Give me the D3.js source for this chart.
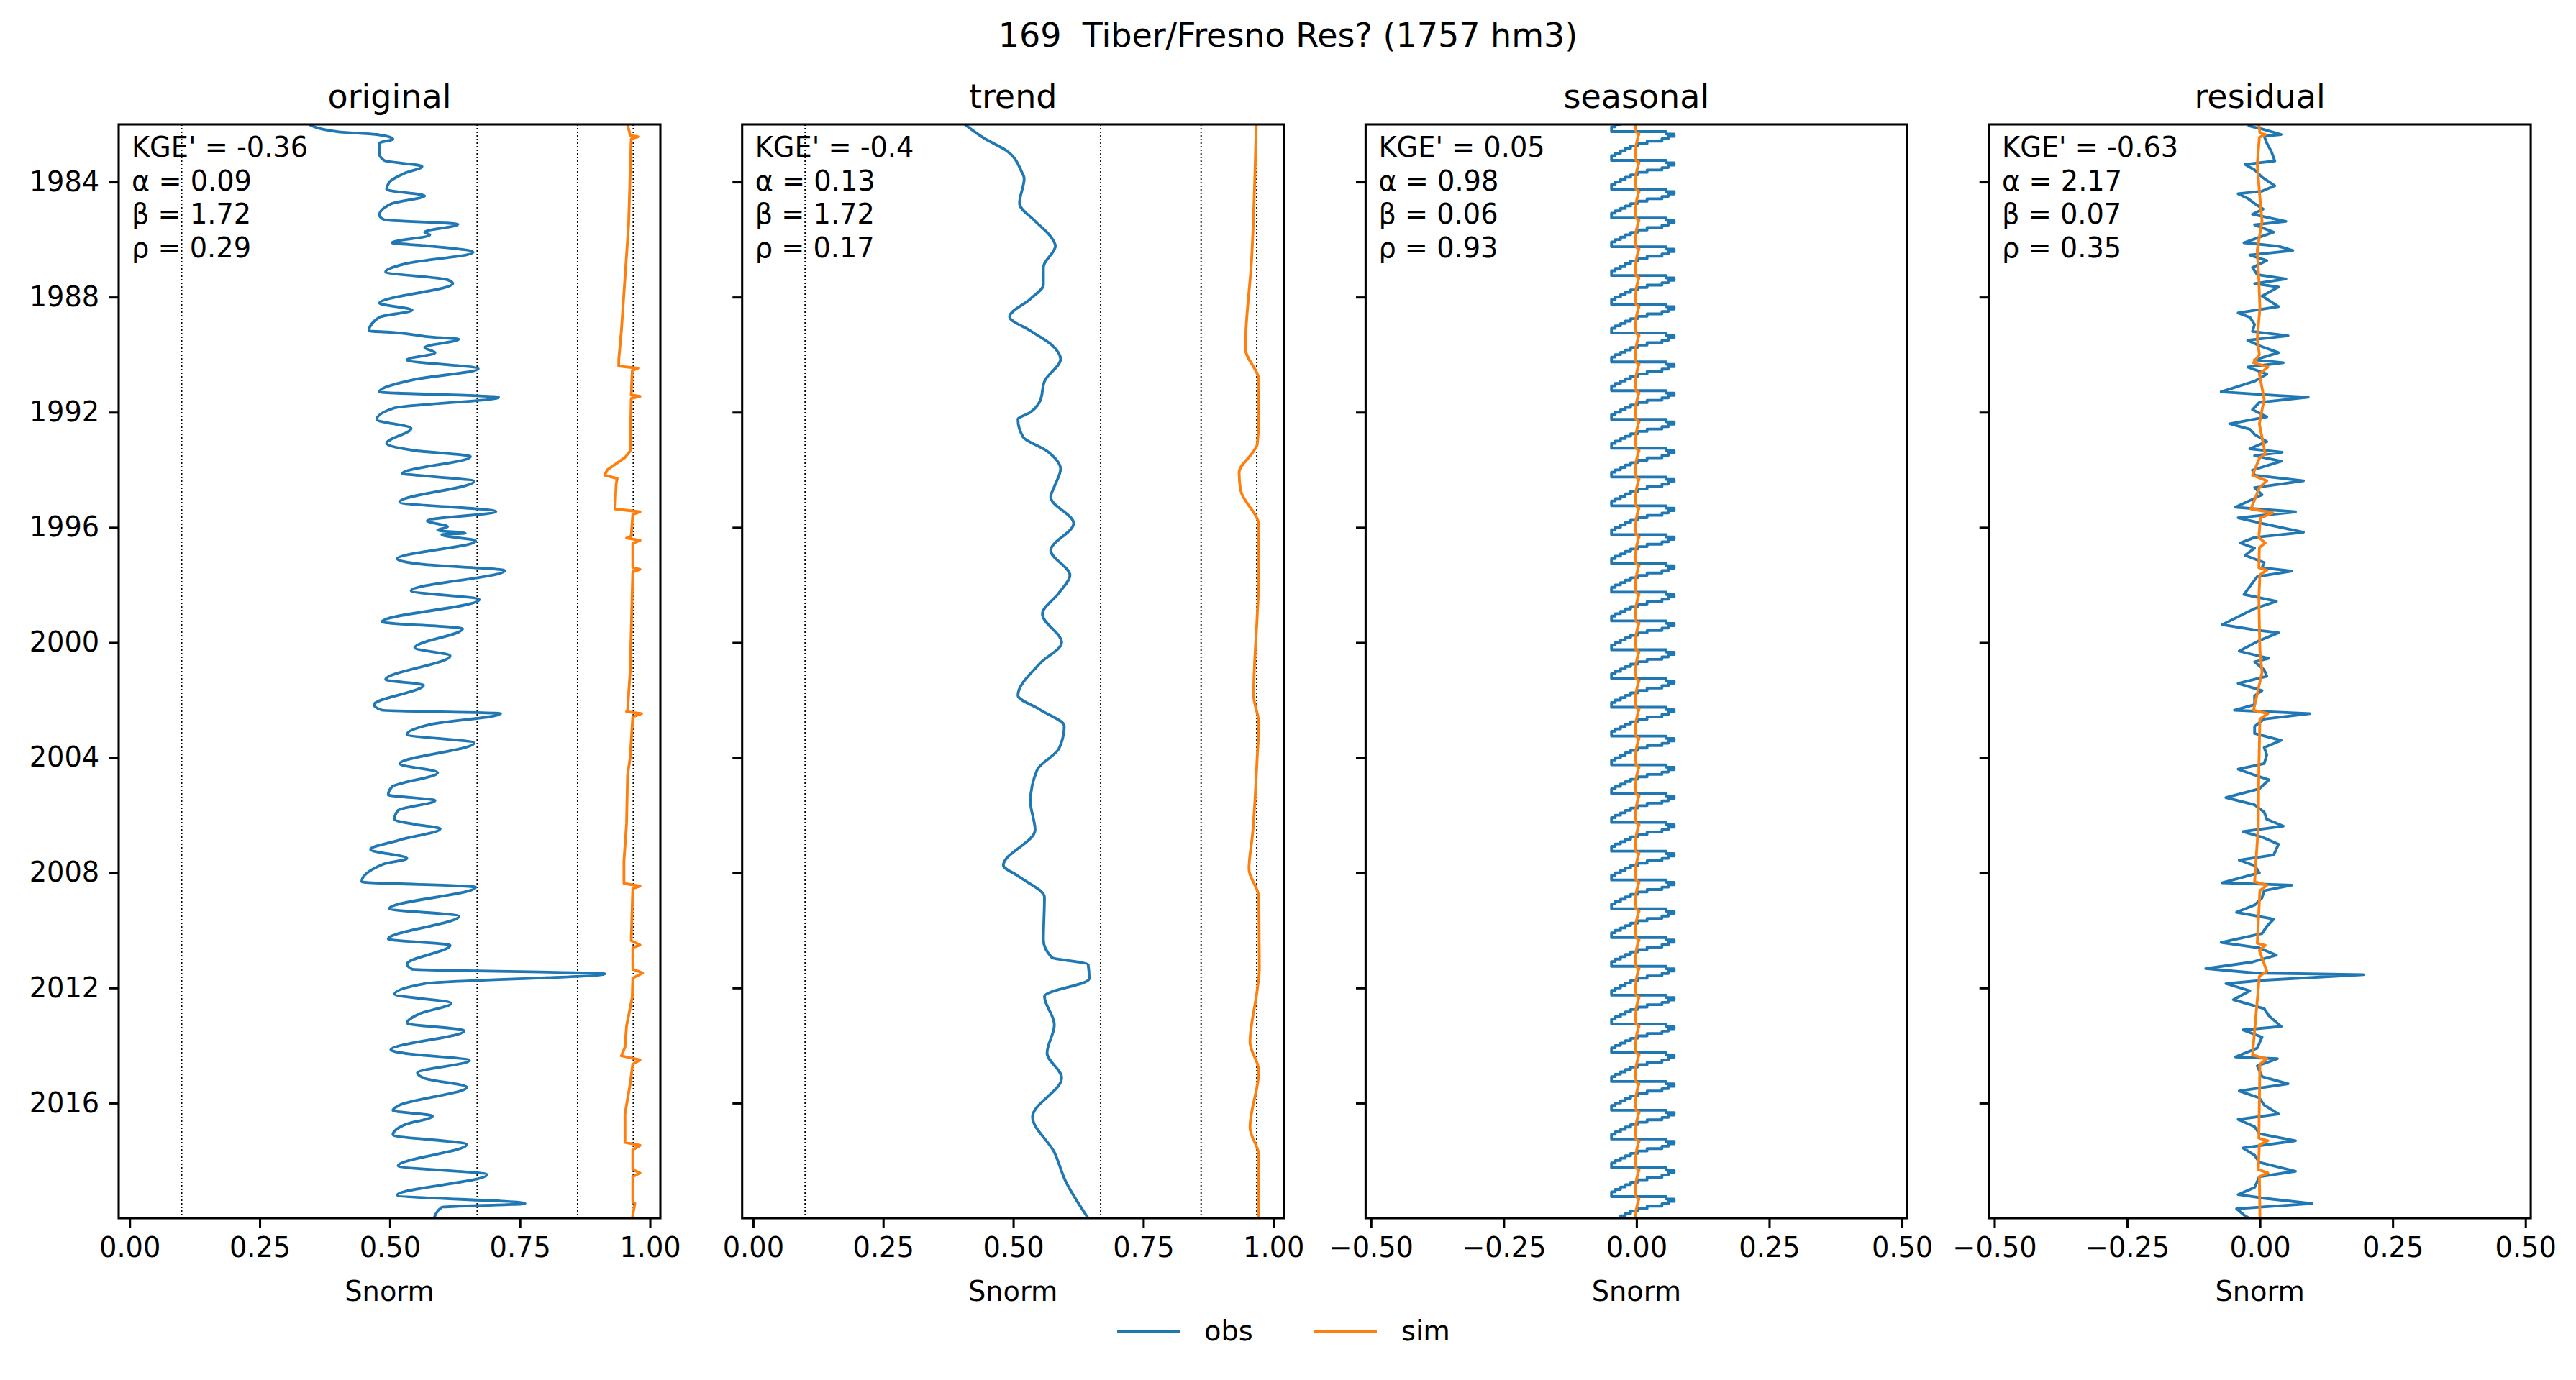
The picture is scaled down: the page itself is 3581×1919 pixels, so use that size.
<!DOCTYPE html>
<html>
<head>
<meta charset="utf-8">
<script src="https://cdn.jsdelivr.net/npm/d3@7"></script>
<style>
  body { margin: 0; background: #fff; }
  svg { display: block; }
  text { white-space: pre; }
</style>
</head>
<body>
<div id="chart"></div>
<script>
// values, time in decimal years, value in Snorm
const panelTitles = ["original", "trend", "seasonal", "residual"];
const suptitle = "169  Tiber/Fresno Res? (1757 hm3)";
const yearTicks = [1984, 1988, 1992, 1996, 2000, 2004, 2008, 2012, 2016];
const ticksPos = [0, 0.25, 0.5, 0.75, 1.0];
const ticksSym = [-0.5, -0.25, 0, 0.25, 0.5];
const zoneLines = [0.10, 0.668, 0.861, 0.968];

const stats = [
  ["KGE' = -0.36", "α = 0.09", "β = 1.72", "ρ = 0.29"],
  ["KGE' = -0.4", "α = 0.13", "β = 1.72", "ρ = 0.17"],
  ["KGE' = 0.05", "α = 0.98", "β = 0.06", "ρ = 0.93"],
  ["KGE' = -0.63", "α = 2.17", "β = 0.07", "ρ = 0.35"]
];

const origObs = [
  [1982.00,0.345],[1982.26,0.402],[1982.35,0.475],[1982.51,0.506],[1982.65,0.480],[1983.02,0.480],
  [1983.25,0.489],[1983.46,0.562],[1983.70,0.528],[1984.01,0.499],[1984.26,0.494],[1984.48,0.567],
  [1984.75,0.504],[1985.15,0.480],[1985.31,0.489],[1985.47,0.631],[1985.74,0.567],[1985.84,0.577],
  [1986.11,0.504],[1986.21,0.567],[1986.44,0.660],[1986.85,0.528],[1987.12,0.492],[1987.40,0.611],
  [1987.53,0.621],[1988.21,0.480],[1988.45,0.543],[1988.70,0.480],[1989.17,0.460],[1989.23,0.509],
  [1989.40,0.587],[1989.46,0.633],[1989.75,0.567],[1989.93,0.587],[1990.18,0.533],[1990.49,0.670],
  [1990.86,0.548],[1991.29,0.480],[1991.48,0.709],[1991.85,0.509],[1992.25,0.475],[1992.56,0.541],
  [1993.08,0.494],[1993.33,0.548],[1993.54,0.655],[1994.13,0.524],[1994.19,0.553],[1994.40,0.662],
  [1995.12,0.519],[1995.45,0.704],[1995.77,0.572],[1995.98,0.611],[1996.10,0.592],[1996.20,0.645],
  [1996.25,0.600],[1996.47,0.665],[1997.09,0.514],[1997.28,0.562],[1997.50,0.721],[1998.20,0.541],
  [1998.51,0.672],[1999.28,0.485],[1999.52,0.640],[2000.18,0.548],[2000.46,0.616],[2001.29,0.492],
  [2001.48,0.565],[2002.16,0.470],[2002.35,0.485],[2002.47,0.713],[2002.85,0.577],[2003.19,0.533],
  [2003.49,0.662],[2004.21,0.519],[2004.52,0.592],[2005.02,0.504],[2005.29,0.497],[2005.49,0.587],
  [2005.83,0.516],[2006.14,0.509],[2006.32,0.548],[2006.47,0.597],[2006.86,0.519],[2007.19,0.463],
  [2007.50,0.533],[2007.69,0.489],[2008.31,0.446],[2008.50,0.665],[2009.24,0.499],[2009.51,0.633],
  [2010.30,0.497],[2010.52,0.616],[2011.17,0.533],[2011.35,0.543],[2011.51,0.913],[2011.85,0.567],
  [2012.22,0.509],[2012.53,0.618],[2012.90,0.557],[2013.22,0.533],[2013.49,0.643],[2014.15,0.502],
  [2014.27,0.528],[2014.52,0.653],[2014.95,0.553],[2015.14,0.567],[2015.45,0.648],[2016.07,0.519],
  [2016.26,0.506],[2016.45,0.582],[2016.76,0.528],[2017.10,0.506],[2017.44,0.648],[2018.18,0.516],
  [2018.49,0.687],[2019.20,0.514],[2019.49,0.760],[2019.62,0.600],[2020.00,0.585]
];

const origSim = [
  [1982.00,0.957],[1982.38,0.962],[1982.43,0.977],[1982.50,0.964],[1985.49,0.959],[1987.34,0.952],
  [1989.19,0.945],[1990.18,0.940],[1990.40,0.940],[1990.47,0.977],[1990.55,0.966],[1991.40,0.964],
  [1991.45,0.981],[1991.52,0.964],[1993.35,0.962],[1993.57,0.952],[1994.00,0.918],[1994.19,0.913],
  [1994.30,0.937],[1994.50,0.935],[1995.36,0.933],[1995.46,0.981],[1995.55,0.967],[1996.30,0.964],
  [1996.37,0.955],[1996.45,0.981],[1996.55,0.967],[1997.40,0.967],[1997.46,0.981],[1997.55,0.967],
  [2001.00,0.962],[2002.35,0.957],[2002.40,0.955],[2002.47,0.984],[2002.58,0.967],[2004.00,0.962],
  [2004.60,0.957],[2006.30,0.955],[2007.60,0.950],[2008.37,0.950],[2008.46,0.981],[2008.55,0.967],
  [2010.36,0.964],[2010.51,0.981],[2010.60,0.967],[2011.35,0.967],[2011.48,0.986],[2011.66,0.967],
  [2012.33,0.966],[2013.32,0.955],[2014.06,0.952],[2014.36,0.945],[2014.50,0.981],[2014.65,0.967],
  [2015.33,0.962],[2016.38,0.952],[2017.37,0.952],[2017.47,0.981],[2017.62,0.967],[2018.31,0.967],
  [2018.43,0.981],[2018.56,0.967],[2019.42,0.967],[2019.49,0.971],[2020.00,0.966]
];

const trendObs = [
  [1982.00,0.407],[1982.48,0.444],[1982.90,0.486],[1983.64,0.516],[1983.88,0.521],[1984.74,0.512],
  [1985.36,0.542],[1985.85,0.570],[1986.22,0.581],[1986.96,0.558],[1987.57,0.558],[1988.06,0.533],
  [1988.68,0.493],[1989.17,0.533],[1989.66,0.574],[1990.15,0.591],[1990.89,0.561],[1991.63,0.551],
  [1992.00,0.533],[1992.25,0.509],[1992.86,0.519],[1993.35,0.565],[1993.97,0.591],[1994.58,0.579],
  [1994.95,0.572],[1995.86,0.616],[1996.80,0.572],[1997.66,0.609],[1998.27,0.588],[1999.01,0.556],
  [2000.00,0.593],[2000.73,0.551],[2001.84,0.509],[2002.33,0.551],[2002.90,0.598],[2003.68,0.588],
  [2004.42,0.546],[2005.53,0.533],[2006.51,0.542],[2007.74,0.481],[2008.11,0.509],[2008.85,0.560],
  [2010.33,0.558],[2010.94,0.574],[2011.19,0.644],[2011.68,0.646],[2012.29,0.560],[2013.28,0.579],
  [2014.26,0.565],[2015.12,0.593],[2016.48,0.537],[2017.71,0.579],[2018.69,0.600],[2020.00,0.644]
];

const trendSim = [
  [1982.00,0.967],[1986.71,0.958],[1989.79,0.946],[1990.89,0.972],[1992.12,0.972],[1993.11,0.969],
  [1993.35,0.962],[1994.09,0.934],[1994.71,0.937],[1995.94,0.972],[1997.78,0.972],[1999.01,0.969],
  [2001.84,0.962],[2002.82,0.972],[2003.93,0.969],[2006.64,0.960],[2007.87,0.953],[2008.85,0.972],
  [2011.31,0.973],[2012.05,0.969],[2013.89,0.955],[2014.88,0.972],[2016.85,0.955],[2017.83,0.972],
  [2020.00,0.972]
];

// monthly seasonal component, Jan..Dec (same every year in the reference)
const seasonObsProfile = [-0.030, -0.040, -0.047, -0.047, 0.056, 0.071, 0.060, 0.048, 0.020, 0.002, -0.011, -0.021];
const seasonSimProfile = [-0.002, -0.002, -0.001, -0.001, 0.005, 0.003, 0.002, 0.001, 0.000, -0.001, -0.001, -0.002];

const residObs = [
  [1982.04,-0.023],[1982.16,0.004],[1982.35,0.040],[1982.41,0.008],[1982.65,0.013],[1982.96,0.022],
  [1983.27,0.028],[1983.39,-0.028],[1983.58,-0.010],[1983.83,0.004],[1984.13,0.028],[1984.32,0.004],
  [1984.41,-0.041],[1984.57,-0.023],[1984.75,-0.010],[1984.94,0.006],[1985.12,-0.014],[1985.37,0.049],
  [1985.49,-0.010],[1985.74,0.026],[1985.92,-0.001],[1986.11,-0.030],[1986.23,0.035],[1986.38,0.062],
  [1986.54,-0.019],[1986.73,0.013],[1986.97,-0.014],[1987.22,-0.005],[1987.37,0.049],[1987.53,-0.010],
  [1987.65,0.035],[1987.96,0.004],[1988.33,0.035],[1988.55,-0.041],[1988.70,-0.019],[1988.95,-0.010],
  [1989.19,-0.014],[1989.34,0.053],[1989.50,-0.023],[1989.69,-0.001],[1989.93,0.035],[1990.18,-0.010],
  [1990.28,0.044],[1990.43,-0.023],[1990.67,0.013],[1990.92,-0.010],[1991.29,-0.073],[1991.42,0.035],
  [1991.48,0.091],[1991.66,-0.001],[1991.91,-0.014],[1992.16,0.013],[1992.40,-0.057],[1992.59,-0.019],
  [1992.77,-0.010],[1993.02,0.013],[1993.27,-0.019],[1993.39,0.042],[1993.51,-0.010],[1993.70,0.040],
  [1994.01,-0.014],[1994.19,-0.010],[1994.38,0.082],[1994.62,-0.010],[1994.87,0.004],[1995.30,-0.046],
  [1995.46,0.067],[1995.67,-0.041],[1995.86,0.004],[1996.17,0.082],[1996.35,-0.010],[1996.54,-0.037],
  [1996.72,-0.010],[1996.97,-0.028],[1997.22,0.008],[1997.40,0.004],[1997.52,0.060],[1997.71,-0.005],
  [1997.83,-0.010],[1998.33,-0.030],[1998.57,0.031],[1998.82,-0.010],[1999.38,-0.071],[1999.56,-0.010],
  [1999.66,0.035],[1999.93,-0.001],[2000.30,-0.039],[2000.55,0.017],[2000.67,-0.010],[2000.95,0.008],
  [2001.17,0.013],[2001.42,-0.041],[2001.67,0.004],[2001.85,-0.010],[2002.16,-0.010],[2002.35,-0.048],
  [2002.47,0.094],[2002.66,0.008],[2002.91,-0.010],[2003.16,-0.010],[2003.40,0.040],[2003.65,0.008],
  [2003.90,0.013],[2004.21,0.008],[2004.40,-0.041],[2004.58,-0.014],[2004.77,0.017],[2005.08,-0.001],
  [2005.39,-0.064],[2005.64,-0.010],[2005.89,0.008],[2006.14,0.013],[2006.38,0.044],[2006.57,-0.032],
  [2006.76,0.004],[2007.01,0.035],[2007.38,0.026],[2007.56,-0.039],[2007.75,-0.010],[2008.00,-0.001],
  [2008.35,-0.071],[2008.43,0.060],[2008.62,0.008],[2008.87,0.004],[2009.12,-0.010],[2009.37,-0.044],
  [2009.61,0.026],[2009.86,0.013],[2010.11,0.004],[2010.42,-0.073],[2010.61,-0.001],[2010.86,0.031],
  [2011.10,-0.014],[2011.33,-0.102],[2011.48,-0.010],[2011.54,0.195],[2011.73,0.008],[2011.85,-0.064],
  [2012.10,-0.019],[2012.41,-0.050],[2012.72,0.008],[2012.97,0.017],[2013.34,0.040],[2013.46,-0.032],
  [2013.71,0.004],[2014.09,-0.005],[2014.40,-0.046],[2014.46,0.033],[2014.71,-0.005],[2015.08,0.004],
  [2015.33,0.053],[2015.58,-0.039],[2015.82,-0.001],[2016.07,0.008],[2016.38,0.035],[2016.57,-0.041],
  [2016.82,-0.010],[2017.07,-0.001],[2017.31,0.067],[2017.56,-0.032],[2017.81,-0.010],[2018.06,-0.001],
  [2018.37,0.067],[2018.56,-0.001],[2018.93,-0.010],[2019.18,-0.041],[2019.30,0.004],[2019.49,0.098],
  [2019.67,-0.044],[2019.92,-0.028],[2020.00,-0.020]
];

const residSim = [
  [1982.00,-0.002],[1982.30,0.000],[1982.35,0.010],[1982.45,-0.001],[1983.39,-0.005],[1984.32,-0.001],
  [1985.37,0.004],[1986.36,-0.005],[1987.40,-0.002],[1988.39,0.000],[1989.44,-0.005],[1990.00,-0.001],
  [1990.28,-0.012],[1990.43,0.015],[1990.67,-0.001],[1991.54,0.008],[1992.40,-0.001],[1993.45,0.010],
  [1993.60,-0.001],[1994.19,-0.014],[1994.38,0.013],[1994.62,-0.001],[1995.36,-0.017],[1995.49,0.024],
  [1995.67,0.001],[1996.35,-0.002],[1996.54,0.010],[1996.70,-0.001],[1997.40,-0.002],[1997.49,0.013],
  [1997.65,0.000],[1998.45,-0.002],[1999.44,-0.001],[2000.30,0.000],[2001.04,0.004],[2002.35,-0.012],
  [2002.47,0.015],[2002.66,0.000],[2004.40,-0.002],[2006.38,-0.003],[2008.31,-0.010],[2008.43,0.013],
  [2008.62,0.000],[2010.45,-0.005],[2010.52,0.010],[2010.70,-0.001],[2011.42,0.013],[2011.60,-0.001],
  [2014.33,-0.014],[2014.46,0.013],[2014.65,0.000],[2017.22,-0.002],[2017.31,0.015],[2017.45,-0.001],
  [2018.31,-0.003],[2018.43,0.015],[2018.56,-0.001],[2019.92,0.000],[2020.00,0.000]
];

const obsColor = "#1f77b4", simColor = "#ff7f0e";

// figure geometry (pixels)
const W = 3581, H = 1919;
const FONT = "DejaVu Sans, Liberation Sans, sans-serif";
const fs = 38.3, titleFs = 46;
const panelW = 753, panelStep = 866.7, axTop = 173, axBottom = 1694;
const tickLen = 13.4, lw = 3.82, spineW = 3.06;

const svg = d3.select("#chart").append("svg")
  .attr("width", W).attr("height", H)
  .attr("font-family", FONT);

svg.append("text")
  .attr("x", W / 2).attr("y", 65)
  .attr("text-anchor", "middle")
  .attr("font-size", titleFs)
  .attr("xml:space", "preserve")
  .text(suptitle);

const y = d3.scaleLinear().domain([1982, 2020]).range([axTop, axBottom]);

// seasonal series: month index from Jan 1982 to Jan 2020
const months = d3.range(1982 * 12, 2020 * 12 + 1);
const seasonObs = months.map(m => [m / 12, seasonObsProfile[m % 12]]);
const seasonSim = months.map(m => [m / 12, seasonSimProfile[m % 12]]);

const panels = [
  { obs: origObs, sim: origSim, domain: [-0.021, 1.02], ticks: ticksPos, zones: true,
    obsCurve: d3.curveMonotoneY, simCurve: d3.curveLinear },
  { obs: trendObs, sim: trendSim, domain: [-0.021, 1.02], ticks: ticksPos, zones: true,
    obsCurve: d3.curveMonotoneY, simCurve: d3.curveMonotoneY },
  { obs: seasonObs, sim: seasonSim, domain: [-0.51, 0.51], ticks: ticksSym, zones: false,
    obsCurve: d3.curveStepAfter, simCurve: d3.curveLinear },
  { obs: residObs, sim: residSim, domain: [-0.51, 0.51], ticks: ticksSym, zones: false,
    obsCurve: d3.curveLinear, simCurve: d3.curveLinear }
];

panels.forEach((p, i) => {
  const left = 165 + i * panelStep;
  const x = d3.scaleLinear().domain(p.domain).range([left, left + panelW]);
  const g = svg.append("g");

  g.append("clipPath").attr("id", "clip" + i)
    .append("rect").attr("x", left).attr("y", axTop)
    .attr("width", panelW).attr("height", axBottom - axTop);

  const plot = g.append("g").attr("clip-path", `url(#clip${i})`);

  if (p.zones) {
    plot.selectAll(".zone").data(zoneLines).enter().append("line")
      .attr("x1", d => x(d)).attr("x2", d => x(d))
      .attr("y1", axTop).attr("y2", axBottom)
      .attr("stroke", "#000").attr("stroke-width", 1.9)
      .attr("stroke-dasharray", "1.9,3.1");
  }

  const lineObs = d3.line().x(d => x(d[1])).y(d => y(d[0])).curve(p.obsCurve);
  const lineSim = d3.line().x(d => x(d[1])).y(d => y(d[0])).curve(p.simCurve);

  plot.append("path").datum(p.obs)
    .attr("d", lineObs).attr("fill", "none")
    .attr("stroke", obsColor).attr("stroke-width", lw)
    .attr("stroke-linejoin", "round");
  plot.append("path").datum(p.sim)
    .attr("d", lineSim).attr("fill", "none")
    .attr("stroke", simColor).attr("stroke-width", lw)
    .attr("stroke-linejoin", "round");

  // axes
  const xAxis = d3.axisBottom(x).tickValues(p.ticks)
    .tickFormat(d3.format(".2f")).tickSize(tickLen).tickPadding(tickLen);
  const gx = g.append("g").attr("transform", `translate(0,${axBottom})`).call(xAxis);

  const yAxis = d3.axisLeft(y).tickValues(yearTicks)
    .tickFormat(i === 0 ? d3.format("d") : () => "")
    .tickSize(tickLen).tickPadding(tickLen);
  const gy = g.append("g").attr("transform", `translate(${left},0)`).call(yAxis);

  [gx, gy].forEach(a => {
    a.select(".domain").remove();
    a.attr("font-size", fs).attr("font-family", FONT);
    a.selectAll(".tick line").attr("stroke", "#000").attr("stroke-width", spineW);
    a.selectAll(".tick text").attr("fill", "#000");
  });

  g.append("rect")
    .attr("x", left).attr("y", axTop)
    .attr("width", panelW).attr("height", axBottom - axTop)
    .attr("fill", "none").attr("stroke", "#000").attr("stroke-width", spineW);

  g.append("text")
    .attr("x", left + panelW / 2).attr("y", 150)
    .attr("text-anchor", "middle").attr("font-size", titleFs)
    .text(panelTitles[i]);

  g.append("text")
    .attr("x", left + panelW / 2).attr("y", 1809)
    .attr("text-anchor", "middle").attr("font-size", fs)
    .text("Snorm");

  g.append("g").selectAll("text").data(stats[i]).enter().append("text")
    .attr("x", left + 18)
    .attr("y", (d, k) => 218 + k * 46.6)
    .attr("font-size", fs)
    .text(d => d);
});

// legend
const legend = svg.append("g");
[["obs", obsColor, 1553], ["sim", simColor, 1827]].forEach(([name, color, lx]) => {
  legend.append("line")
    .attr("x1", lx).attr("x2", lx + 87)
    .attr("y1", 1851).attr("y2", 1851)
    .attr("stroke", color).attr("stroke-width", lw);
  legend.append("text")
    .attr("x", lx + 121).attr("y", 1864)
    .attr("font-size", fs)
    .text(name);
});
</script>
</body>
</html>
